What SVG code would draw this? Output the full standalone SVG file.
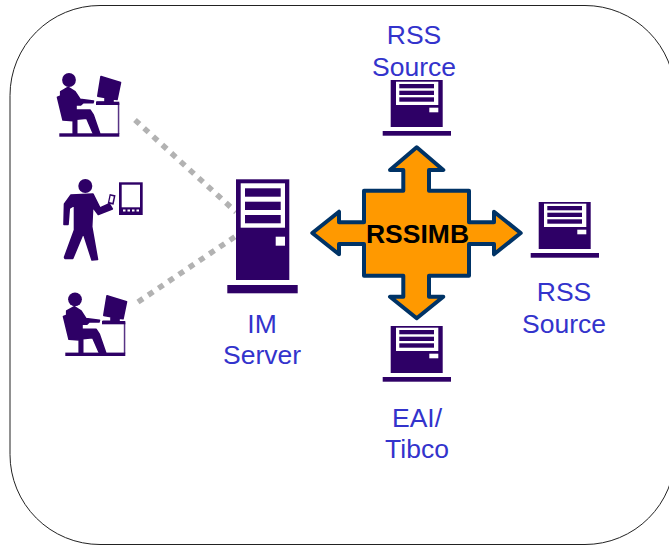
<svg xmlns="http://www.w3.org/2000/svg" width="669" height="545" viewBox="0 0 669 545">
<style>
.d{fill:#2e0066}
.p{fill:#2e0066;stroke:#2e0066;stroke-width:1.6;stroke-linejoin:round}
.w{fill:#fff}
.t{font-family:"Liberation Sans",Arial,sans-serif;font-size:26.5px;fill:#3333cc;text-anchor:middle}
.b{font-family:"Liberation Sans",Arial,sans-serif;font-size:26.5px;font-weight:bold;fill:#000;text-anchor:middle}
.c{fill:none;stroke:#b2b2b2;stroke-width:5.5;stroke-dasharray:6 6.3}
</style>
<defs>
<g id="term">
<rect class="d" x="390.7" y="80" width="52" height="47"/>
<rect class="w" x="396" y="81.7" width="42.3" height="23.3"/>
<rect class="d" x="399.3" y="84" width="34.7" height="4.3"/>
<rect class="d" x="399.3" y="90.7" width="34.7" height="4.3"/>
<rect class="d" x="399.3" y="97.3" width="34.7" height="4.4"/>
<rect class="w" x="429.3" y="107.7" width="9" height="4.6"/>
<rect class="d" x="382.7" y="131" width="68.3" height="4.7"/>
</g>
<g id="desk">
<circle class="d" cx="69" cy="80" r="6.9"/>
<path class="p" d="M60.7 91.7L68.3 87.3L75 91.7L80 99.3L93.5 101L93 102.7L83.3 102.7L80.7 105L76 105L76 110L90 110L93.3 115L99.7 133.5L93.3 133.5L86.7 118.3L76.7 119.3L76.7 133.5L73.2 133.5L73.2 120.7L63 120L57.5 97.3L60.7 96Z"/>
<path class="p" d="M101 76.5L120.5 82.5L117 99.5L113 99L113 102.5L97 102.5L97 102L105 102L105 97.5L97.8 96.2Z"/>
<rect class="d" x="96" y="101.7" width="23.3" height="3.3"/>
<rect class="d" x="117.8" y="103" width="1.5" height="31" opacity=".8"/>
<rect class="d" x="59.3" y="133.3" width="60" height="3.4"/>
</g>
</defs>
<rect x="10" y="5.5" width="665" height="539" rx="90" ry="90" fill="#fff" stroke="#222" stroke-width="1"/>
<g id="connectors">
<path class="c" d="M135 120L236 212"/>
<path class="c" d="M138 302L236 236"/>
</g>
<g id="user-1"><use href="#desk"/></g>
<g id="user-mobile">
<circle class="d" cx="85.3" cy="186" r="7"/>
<path class="p" d="M71 195L93 194L100 208L109.3 203.8L112.3 209L98.3 214.5L92.7 207L91.7 226.7L97.5 259.5L92 260L83.3 233L72.7 258.5L65 258.5L64.5 257.3L74.5 230L74.5 205L69.3 208.3L68 224.5L64 224.5L64.5 204Z"/>
<rect class="d" x="108.7" y="194.5" width="6" height="9.5" transform="rotate(12 111 199)"/>
<rect class="w" x="110" y="196" width="3.2" height="6.4" transform="rotate(12 111 199)"/>
<rect class="d" x="119" y="182.3" width="23.7" height="32.7"/>
<rect class="w" x="121.7" y="184.7" width="18.3" height="22.6"/>
<rect class="w" x="123" y="209.5" width="2.5" height="2"/>
<rect class="w" x="127.5" y="209.5" width="2.5" height="2"/>
<rect class="w" x="132" y="209.5" width="2.5" height="2"/>
<rect class="w" x="136.5" y="209.5" width="2.5" height="2"/>
</g>
<g id="user-2"><use href="#desk" transform="translate(6 219.3)"/></g>
<g id="im-server">
<rect class="d" x="236" y="179.3" width="53.3" height="100.7"/>
<rect class="w" x="240.7" y="183.3" width="44.3" height="44.4"/>
<rect class="d" x="245" y="188.3" width="35.7" height="8.4"/>
<rect class="d" x="245" y="201.7" width="35.7" height="8.3"/>
<rect class="d" x="245" y="215" width="35.7" height="8.3"/>
<rect class="w" x="275.7" y="236.7" width="9.3" height="9"/>
<rect class="d" x="227.3" y="285" width="70.4" height="8.3"/>
<text class="t" x="262" y="333">IM</text>
<text class="t" x="262" y="364">Server</text>
</g>
<g id="rss-source-top">
<use href="#term"/>
<text class="t" x="414" y="44">RSS</text>
<text class="t" x="414" y="76">Source</text>
</g>
<g id="rss-source-right">
<use href="#term" transform="translate(148 122)"/>
<text class="t" x="564" y="301">RSS</text>
<text class="t" x="564" y="333">Source</text>
</g>
<g id="eai-tibco">
<use href="#term" transform="translate(0 246)"/>
<text class="t" x="417" y="427">EAI/</text>
<text class="t" x="417" y="458">Tibco</text>
</g>
<g id="rssimb">
<path d="M416.7 147.3L443.3 170L429 170L429 190.7L469 190.7L469 222.3L494 222.3L494 211.7L520.7 233L494 254.3L494 244L469 244L469 275.7L429 275.7L429 296.7L443.3 296.7L416.7 318.3L390 296.7L403.3 296.7L403.3 275.7L364 275.7L364 244L339 244L339 254.3L312.3 233L339 211.7L339 222.3L364 222.3L364 190.7L403.3 190.7L403.3 170L390 170Z" fill="#ff9900" stroke="#003366" stroke-width="4" stroke-linejoin="round"/>
<text class="b" x="417.5" y="242.5">RSSIMB</text>
</g>
</svg>
